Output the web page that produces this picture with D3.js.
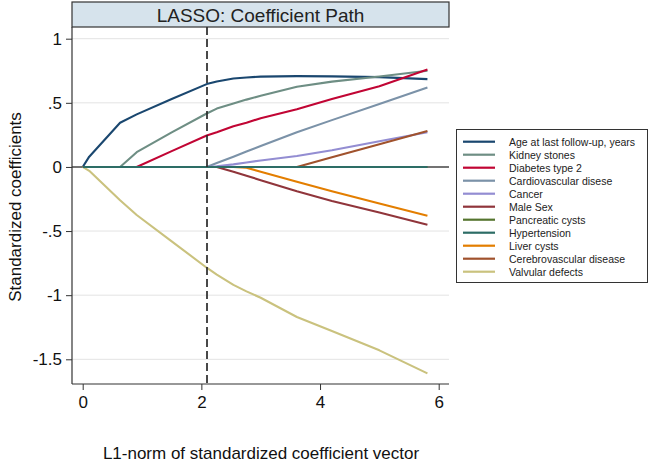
<!DOCTYPE html>
<html>
<head>
<meta charset="utf-8">
<script src="https://cdn.jsdelivr.net/npm/d3@7"></script>
<style>
  html, body { margin: 0; padding: 0; background: #fff; }
  svg { display: block; font-family: "Liberation Sans", Arial, sans-serif; }
</style>
</head>
<body>
<svg id="chart" width="649" height="464"></svg>
<script>
// ---- data ----
const l1Norm = [0, 0.11, 0.63, 0.91, 1.5, 2.09, 2.26, 2.54, 2.76, 3.0, 3.61, 4.2, 5.0, 5.81];
const seriesNames = [
  "Age at last follow-up, years", "Kidney stones", "Diabetes type 2", "Cardiovascular disese",
  "Cancer", "Male Sex", "Pancreatic cysts", "Hypertension", "Liver cysts",
  "Cerebrovascular disease", "Valvular defects"
];
const ageVals      = [0, 0.08, 0.345, 0.41, 0.53, 0.646, 0.666, 0.69, 0.698, 0.704, 0.708, 0.706, 0.70, 0.685];
const kidneyVals   = [0, 0, 0, 0.115, 0.27, 0.417, 0.455, 0.495, 0.525, 0.555, 0.625, 0.665, 0.705, 0.75];
const diabetesVals = [0, 0, 0, 0, 0.123, 0.245, 0.27, 0.318, 0.345, 0.38, 0.45, 0.53, 0.63, 0.76];
const cardioVals   = [0, 0, 0, 0, 0, 0, 0.03, 0.08, 0.12, 0.163, 0.27, 0.365, 0.49, 0.62];
const cancerVals   = [0, 0, 0, 0, 0, 0, 0.005, 0.02, 0.035, 0.05, 0.085, 0.13, 0.2, 0.27];
const maleVals     = [0, 0, 0, 0, 0, 0, 0, -0.037, -0.069, -0.103, -0.19, -0.265, -0.356, -0.45];
const pancreasVals = [0, 0, 0, 0, 0, 0, 0, 0, 0, 0, 0, 0, 0, 0];
const hyperVals    = [0, 0, 0, 0, 0, 0, 0, 0, 0, 0, 0, 0, 0, 0];
const liverVals    = [0, 0, 0, 0, 0, 0, 0, 0, -0.006, -0.037, -0.115, -0.19, -0.285, -0.38];
const cerebroVals  = [0, 0, 0, 0, 0, 0, 0, 0, 0, 0, 0, 0.075, 0.177, 0.28];
const valvularVals = [0, -0.03, -0.26, -0.375, -0.58, -0.786, -0.84, -0.92, -0.97, -1.02, -1.17, -1.28, -1.43, -1.61];
const seriesColors = ["#1a476f", "#6e8e84", "#c10534", "#7b92a8", "#938dd2", "#90353b",
                      "#55752f", "#2d6d66", "#e37e00", "#a0522d", "#cac27e"];
const xTicks = [0, 2, 4, 6];
const xTickLabels = ["0", "2", "4", "6"];
const yTicks = [1, 0.5, 0, -0.5, -1, -1.5];
const yTickLabels = ["1", ".5", "0", "-.5", "-1", "-1.5"];
const gridYs = [1, 0.5, -0.5, -1, -1.5];
const selectedL1 = 2.095;

const allVals = [ageVals, kidneyVals, diabetesVals, cardioVals, cancerVals, maleVals,
                 pancreasVals, hyperVals, liverVals, cerebroVals, valvularVals];
const series = seriesNames.map((n, i) => ({
  name: n, color: seriesColors[i], order: n === "Hypertension" ? 99 : i,
  pts: l1Norm.map((x, j) => ({x, y: allVals[i][j]}))
}));

// ---- layout ----
const svg = d3.select("#chart");
const plotL = 72, plotR = 449, plotT = 27, plotB = 384;
const x = d3.scaleLinear().domain([0, 6]).range([82.7, 438.7]);
const y = d3.scaleLinear().domain([-1.5, 1]).range([359.3, 38.7]);

// gridlines
svg.append("g").selectAll("line").data(gridYs).join("line")
  .attr("x1", plotL).attr("x2", plotR)
  .attr("y1", d => y(d)).attr("y2", d => y(d))
  .attr("stroke", "#e3e3e3").attr("stroke-width", 1);

// zero reference
svg.append("line").attr("x1", plotL).attr("x2", plotR)
  .attr("y1", y(0)).attr("y2", y(0))
  .attr("stroke", "#444").attr("stroke-width", 1.4);

// axes
const yAxis = d3.axisLeft(y).tickValues(yTicks).tickSize(6).tickPadding(4)
  .tickFormat((d, i) => yTickLabels[i]);
const gy = svg.append("g").attr("transform", `translate(${plotL},0)`).call(yAxis);
gy.select(".domain").remove();
gy.selectAll(".tick line").attr("stroke", "#333");
gy.selectAll(".tick text").attr("fill", "#111").style("font-size", "17px")
  .style("font-family", "'Liberation Sans', Arial, sans-serif");

const xAxis = d3.axisBottom(x).tickValues(xTicks).tickSize(6).tickPadding(6)
  .tickFormat((d, i) => xTickLabels[i]);
const gx = svg.append("g").attr("transform", `translate(0,${plotB})`).call(xAxis);
gx.select(".domain").remove();
gx.selectAll(".tick line").attr("stroke", "#333");
gx.selectAll(".tick text").attr("fill", "#111").style("font-size", "17px")
  .style("font-family", "'Liberation Sans', Arial, sans-serif");

svg.append("line").attr("x1", plotL).attr("x2", plotL).attr("y1", plotT).attr("y2", plotB)
  .attr("stroke", "#333").attr("stroke-width", 1.2);
svg.append("line").attr("x1", plotL).attr("x2", plotR).attr("y1", plotB).attr("y2", plotB)
  .attr("stroke", "#333").attr("stroke-width", 1.2);

// lines (hypertension drawn on top, as in the reference)
const line = d3.line().x(d => x(d.x)).y(d => y(d.y));
svg.append("g").selectAll("path")
  .data(series.slice().sort((a, b) => a.order - b.order)).join("path")
  .attr("d", d => line(d.pts))
  .attr("fill", "none")
  .attr("stroke", d => d.color)
  .attr("stroke-width", 2.1)
  .attr("stroke-linejoin", "round");

// selected lambda dashed line
svg.append("line").attr("x1", x(selectedL1)).attr("x2", x(selectedL1))
  .attr("y1", plotT).attr("y2", plotB)
  .attr("stroke", "#2a2a2a").attr("stroke-width", 1.7).attr("stroke-dasharray", "8,4");

// title band
svg.append("rect").attr("x", plotL).attr("y", 2).attr("width", plotR - plotL).attr("height", 25)
  .attr("fill", "#d6e3ec").attr("stroke", "#333").attr("stroke-width", 1.2);
svg.append("text").attr("x", (plotL + plotR) / 2).attr("y", 15)
  .attr("text-anchor", "middle").attr("dominant-baseline", "central")
  .style("font-size", "19px").attr("fill", "#222").text("LASSO: Coefficient Path");

// axis titles
svg.append("text").attr("transform", `translate(15,207) rotate(-90)`)
  .attr("text-anchor", "middle").attr("dominant-baseline", "central")
  .style("font-size", "17px").attr("fill", "#111").text("Standardized coefficients");
svg.append("text").attr("x", 261).attr("y", 453)
  .attr("text-anchor", "middle").attr("dominant-baseline", "central")
  .style("font-size", "17px").attr("fill", "#111").text("L1-norm of standardized coefficient vector");

// legend
const lg = svg.append("g");
lg.append("rect").attr("x", 456.5).attr("y", 129.5).attr("width", 191).attr("height", 153)
  .attr("fill", "#fff").attr("stroke", "#333").attr("stroke-width", 1);
const items = lg.selectAll("g.item").data(series).join("g").attr("class", "item")
  .attr("transform", (d, i) => `translate(0,${141.7 + i * 13})`);
items.append("line").attr("x1", 463).attr("x2", 495).attr("y1", 0).attr("y2", 0)
  .attr("stroke", d => d.color).attr("stroke-width", 2.2);
items.append("text").attr("x", 509).attr("y", 0).attr("dominant-baseline", "central")
  .style("font-size", "10.5px").attr("fill", "#222").text(d => d.name);
</script>
</body>
</html>
